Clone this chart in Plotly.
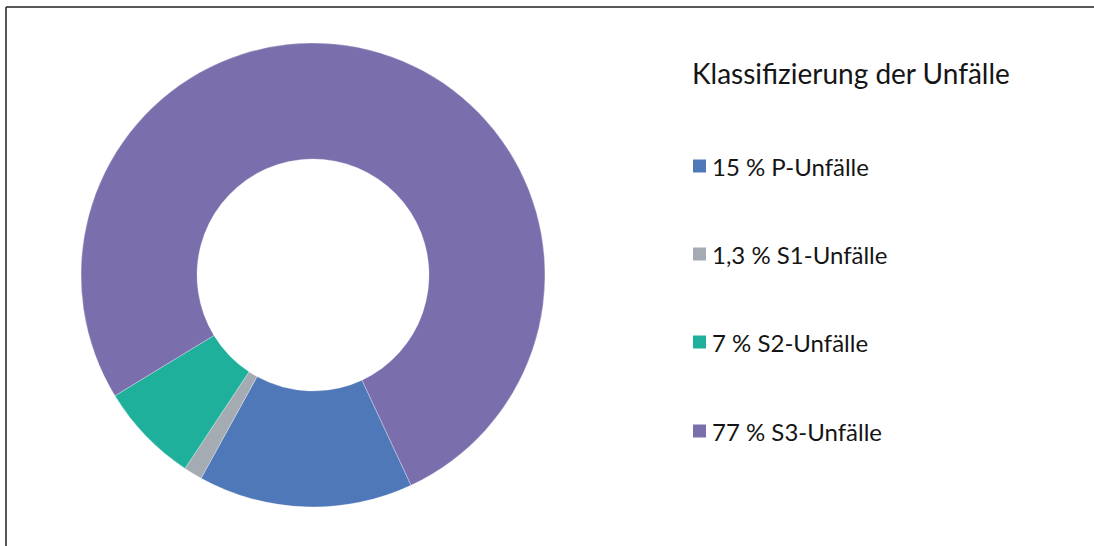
import plotly.graph_objects as go

labels = ["15 % P-Unfälle", "1,3 % S1-Unfälle", "7 % S2-Unfälle", "77 % S3-Unfälle"]
values = [15, 1.3, 7, 77]
colors = ["#4E78B7", "#A5ABB3", "#1EB09A", "#7B6EAD"]
legend_title = "Klassifizierung der Unfälle"

W, H = 1094, 546
FONT = "Lato"

fig = go.Figure()
fig.add_trace(go.Pie(
    labels=labels, values=values, sort=False, direction="clockwise",
    rotation=155, hole=0.5,
    marker=dict(colors=colors, line=dict(color="rgba(255,255,255,0.6)", width=0.5)),
    textinfo="none", hoverinfo="label", showlegend=False,
    domain=dict(x=[(313 - 232) / W, (313 + 232) / W], y=[1 - 507 / H, 1 - 43 / H]),
))

shapes = [
    dict(type="line", xref="paper", yref="paper", x0=6 / W, x1=6 / W, y0=0, y1=1 - 7 / H,
         line=dict(color="#222222", width=1.5)),
    dict(type="line", xref="paper", yref="paper", x0=6 / W, x1=1, y0=1 - 7 / H, y1=1 - 7 / H,
         line=dict(color="#222222", width=1.5)),
]
annotations = [
    dict(text=legend_title, xref="paper", yref="paper", x=690 / W, y=1 - 73 / H,
         xanchor="left", yanchor="middle", showarrow=False,
         font=dict(family=FONT, size=28, color="#151515")),
]
item_y = [166, 254, 342, 431]
for lab, col, yy in zip(labels, colors, item_y):
    shapes.append(dict(type="rect", xref="paper", yref="paper",
                       x0=693 / W, x1=706 / W, y0=1 - (yy + 6.5) / H, y1=1 - (yy - 6.5) / H,
                       fillcolor=col, line=dict(width=0)))
    annotations.append(dict(text=lab, xref="paper", yref="paper", x=710 / W, y=1 - yy / H,
                            xanchor="left", yanchor="middle", showarrow=False,
                            font=dict(family=FONT, size=24, color="#151515")))

fig.update_layout(
    width=W, height=H, margin=dict(l=0, r=0, t=0, b=0),
    paper_bgcolor="white", plot_bgcolor="white",
    shapes=shapes, annotations=annotations,
)
fig.write_html("out.html", config={"displayModeBar": False},
               post_script="document.body.style.margin='0';document.body.style.overflow='hidden';")
